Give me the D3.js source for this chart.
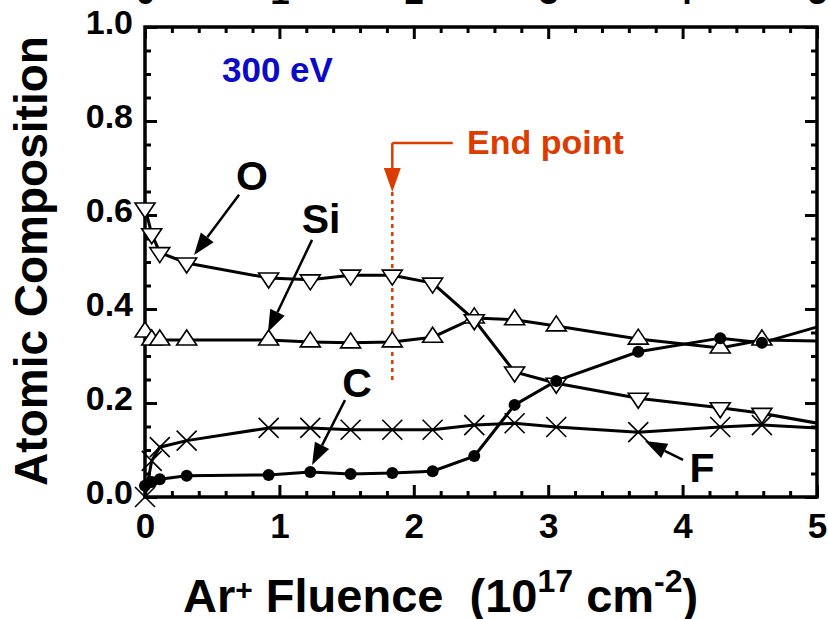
<!DOCTYPE html>
<html lang="en">
<head>
  <meta charset="UTF-8">
  <title>Atomic Composition vs Ar+ Fluence</title>
  <script src="https://d3js.org/d3.v7.min.js"></script>
  <style>
    body { margin: 0; background: #fff; }
    text { font-family: Arial, "Liberation Sans", sans-serif; font-weight: bold; }
  </style>
</head>
<body>
<div id="chart"></div>

<script>
// data (fluence in 1e17 cm^-2)
const fluence = [0, 0.05, 0.11, 0.31, 0.92, 1.23, 1.53, 1.84, 2.14, 2.45, 2.75, 3.06, 3.67, 4.28, 4.59, 5.2];
const oxygen  = [0.615, 0.56, 0.52, 0.498, 0.466, 0.462, 0.472, 0.472, 0.455, 0.377, 0.266, 0.242, 0.21, 0.19, 0.178, 0.147];
const silicon = [0.351, 0.334, 0.334, 0.334, 0.334, 0.330, 0.328, 0.330, 0.340, 0.381, 0.377, 0.364, 0.336, 0.317, 0.334, 0.331];
const carbon  = [0.024, 0.032, 0.038, 0.045, 0.047, 0.053, 0.049, 0.051, 0.055, 0.087, 0.196, 0.247, 0.309, 0.338, 0.328, 0.378];
const fluorine = [0.0, 0.077, 0.106, 0.12, 0.147, 0.147, 0.143, 0.143, 0.143, 0.153, 0.157, 0.149, 0.138, 0.149, 0.153, 0.144];

const xTicks = [0, 1, 2, 3, 4, 5];
const yTicks = [0, 0.2, 0.4, 0.6, 0.8, 1.0];
const endPoint = 1.84;

// labels + arrows in data units: [label, labelX, labelY, fromX, fromY, toX, toY]
const labels = [
  ["O", 0.796, 0.653, 0.70, 0.643, 0.365, 0.515],
  ["Si", 1.31, 0.562, 1.243, 0.547, 0.915, 0.351],
  ["C", 1.577, 0.213, 1.488, 0.206, 1.243, 0.068],
  ["F", 4.144, 0.032, 4.003, 0.079, 3.72, 0.119]
];

const margin = {top: 27, right: 11, bottom: 122, left: 145};
const width = 828 - margin.left - margin.right;
const height = 619 - margin.top - margin.bottom;

const svg = d3.select("#chart").append("svg")
    .attr("width", 828)
    .attr("height", 619)
  .append("g")
    .attr("transform", `translate(${margin.left},${margin.top})`);

const x = d3.scaleLinear().domain([0, 5]).range([0, width]);
const y = d3.scaleLinear().domain([0, 1]).range([height, 0]);

const xMinor = d3.range(0, 5.01, 0.2).filter(v => Math.abs(v - Math.round(v)) > 0.01);
const yMinor = d3.range(0, 1.001, 0.05).filter(v => Math.abs(v * 5 - Math.round(v * 5)) > 0.01);

function styleAxis(g) {
  g.select(".domain").remove();
  g.selectAll("line").attr("stroke", "#000").attr("stroke-width", 3);
  g.selectAll("text").attr("fill", "#000").style("font-size", "35px").style("font-weight", "bold");
}

// bottom
svg.append("g")
  .attr("transform", `translate(0,${height})`)
  .call(d3.axisBottom(x).tickValues(xTicks).tickSize(-12).tickPadding(16).tickFormat(d3.format("d")))
  .call(styleAxis);
svg.append("g")
  .attr("transform", `translate(0,${height})`)
  .call(d3.axisBottom(x).tickValues(xMinor).tickSize(-6).tickFormat(""))
  .call(styleAxis);

// top (labels are cut by the page edge, as in the original scan)
svg.append("g")
  .call(d3.axisTop(x).tickValues(xTicks).tickSize(-12).tickPadding(23).tickFormat(d3.format("d")))
  .call(styleAxis)
  .selectAll("text").attr("dy", "0em");
svg.append("g")
  .call(d3.axisTop(x).tickValues(xMinor).tickSize(-6).tickFormat(""))
  .call(styleAxis);

// left
svg.append("g")
  .call(d3.axisLeft(y).tickValues(yTicks).tickSize(-12).tickPadding(12).tickFormat(d3.format(".1f")))
  .call(styleAxis)
  .selectAll("text").style("font-size", "34px").attr("dy", "0.2em");
svg.append("g")
  .call(d3.axisLeft(y).tickValues(yMinor).tickSize(-6).tickFormat(""))
  .call(styleAxis);

// right
svg.append("g")
  .attr("transform", `translate(${width},0)`)
  .call(d3.axisRight(y).tickValues(yTicks).tickSize(-12).tickFormat(""))
  .call(styleAxis);
svg.append("g")
  .attr("transform", `translate(${width},0)`)
  .call(d3.axisRight(y).tickValues(yMinor).tickSize(-6).tickFormat(""))
  .call(styleAxis);

// frame
svg.append("rect")
  .attr("width", width)
  .attr("height", height)
  .attr("fill", "none")
  .attr("stroke", "#000")
  .attr("stroke-width", 3.5);

// end point marker
const red = "rgb(220,60,0)";
const epx = x(endPoint);
svg.append("line")
  .attr("x1", epx).attr("x2", x(2.29))
  .attr("y1", y(0.753)).attr("y2", y(0.753))
  .attr("stroke", red).attr("stroke-width", 2.5);
svg.append("line")
  .attr("x1", epx).attr("x2", epx)
  .attr("y1", y(0.753)).attr("y2", y(0.70))
  .attr("stroke", red).attr("stroke-width", 2.5);
svg.append("path")
  .attr("d", `M${epx - 8.5},${y(0.70)}L${epx + 8.5},${y(0.70)}L${epx},${y(0.649)}Z`)
  .attr("fill", red);
svg.append("line")
  .attr("x1", epx).attr("x2", epx)
  .attr("y1", y(0.649)).attr("y2", y(0.245))
  .attr("stroke", red).attr("stroke-width", 2.5)
  .attr("stroke-dasharray", "4,4");
svg.append("text")
  .attr("x", x(2.396)).attr("y", y(0.73))
  .attr("fill", red)
  .style("font-size", "34px")
  .text("End point");

svg.append("text")
  .attr("x", x(0.573)).attr("y", y(0.883))
  .attr("fill", "rgb(10,10,200)")
  .style("font-size", "35px")
  .text("300 eV");

// data
svg.append("clipPath").attr("id", "clip")
  .append("rect").attr("x", -60).attr("y", -60).attr("width", width + 60).attr("height", height + 120);

const plot = svg.append("g").attr("clip-path", "url(#clip)");

const series = [oxygen, silicon, carbon, fluorine];
const line = d3.line().x(d => x(d[0])).y(d => y(d[1]));

series.forEach(vals => {
  plot.append("path")
    .datum(fluence.map((f, i) => [f, vals[i]]))
    .attr("fill", "none")
    .attr("stroke", "#000")
    .attr("stroke-width", 3)
    .attr("d", line);
});

const downTri = "M-10,-5L10,-5L0,10Z";
const upTri = "M-10,5L10,5L0,-10Z";

plot.append("g").selectAll("path")
  .data(fluence.map((f, i) => [f, silicon[i]]))
  .join("path")
  .attr("transform", d => `translate(${x(d[0])},${y(d[1])})`)
  .attr("d", upTri)
  .attr("fill", "#fff").attr("stroke", "#000").attr("stroke-width", 1.6);

plot.append("g").selectAll("path")
  .data(fluence.map((f, i) => [f, oxygen[i]]))
  .join("path")
  .attr("transform", d => `translate(${x(d[0])},${y(d[1])})`)
  .attr("d", downTri)
  .attr("fill", "#fff").attr("stroke", "#000").attr("stroke-width", 1.6);

plot.append("g").selectAll("circle")
  .data(fluence.map((f, i) => [f, carbon[i]]))
  .join("circle")
  .attr("cx", d => x(d[0]))
  .attr("cy", d => y(d[1]))
  .attr("r", 6)
  .attr("fill", "#000");

plot.append("g").selectAll("path")
  .data(fluence.map((f, i) => [f, fluorine[i]]))
  .join("path")
  .attr("transform", d => `translate(${x(d[0])},${y(d[1])})`)
  .attr("d", "M-10,-10L10,10M-10,10L10,-10")
  .attr("fill", "none").attr("stroke", "#000").attr("stroke-width", 1.6);

// element labels with arrows
labels.forEach(([name, lx, ly, x1, y1, x2, y2]) => {
  svg.append("text")
    .attr("x", x(lx)).attr("y", y(ly))
    .attr("text-anchor", "middle")
    .style("font-size", "41px")
    .text(name);

  const px1 = x(x1), py1 = y(y1), px2 = x(x2), py2 = y(y2);
  const ang = Math.atan2(py2 - py1, px2 - px1);
  const len = 22, half = 8;
  const bx = px2 - len * Math.cos(ang), by = py2 - len * Math.sin(ang);
  svg.append("line")
    .attr("x1", px1).attr("y1", py1).attr("x2", bx).attr("y2", by)
    .attr("stroke", "#000").attr("stroke-width", 2.5);
  svg.append("path")
    .attr("d", `M${px2},${py2}L${bx - half * Math.sin(ang)},${by + half * Math.cos(ang)}L${bx + half * Math.sin(ang)},${by - half * Math.cos(ang)}Z`)
    .attr("fill", "#000");
});

// axis titles
const root = d3.select("svg");
const xt = root.append("text")
  .attr("x", 183).attr("y", 612)
  .style("font-size", "47px")
  .style("white-space", "pre");
xt.append("tspan").text("Ar");
xt.append("tspan").attr("dy", -12).style("font-size", "30px").text("+");
xt.append("tspan").attr("dy", 12).text(" Fluence  (10");
xt.append("tspan").attr("dy", -20).style("font-size", "32px").text("17");
xt.append("tspan").attr("dy", 20).text(" cm");
xt.append("tspan").attr("dy", -20).style("font-size", "32px").text("-2");
xt.append("tspan").attr("dy", 20).text(")");

root.append("text")
  .attr("transform", "translate(47,261) rotate(-90)")
  .attr("text-anchor", "middle")
  .style("font-size", "46px")
  .text("Atomic Composition");
</script>
</body>
</html>
